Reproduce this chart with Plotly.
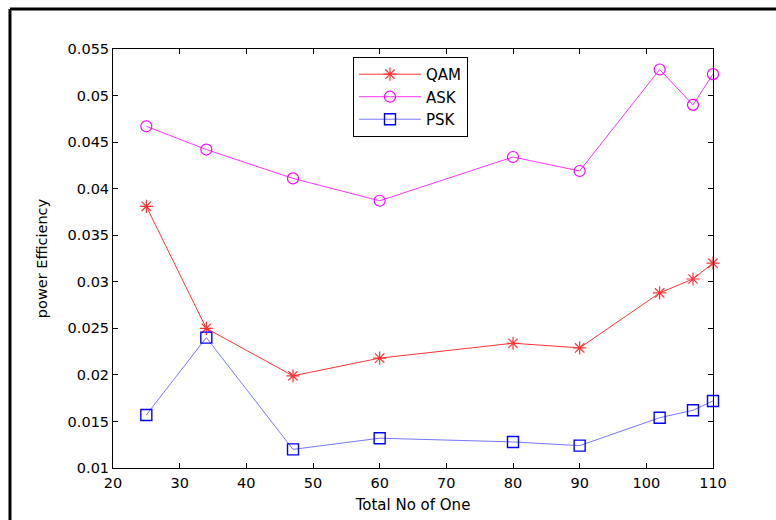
import plotly.graph_objects as go

# Number of ones in the frame (x) and measured power efficiency per modulation
total_ones = [25, 34, 47, 60, 80, 90, 102, 107, 110]
qam_eff = [0.0381, 0.0250, 0.0199, 0.0218, 0.0234, 0.0229, 0.0288, 0.0303, 0.0320]
ask_eff = [0.0467, 0.0442, 0.0411, 0.0387, 0.0434, 0.0419, 0.0528, 0.0490, 0.0523]
psk_eff = [0.0157, 0.0240, 0.0120, 0.0132, 0.0128, 0.0124, 0.0154, 0.0162, 0.0172]

x_ticks = [20, 30, 40, 50, 60, 70, 80, 90, 100, 110]
x_tick_text = ["20", "30", "40", "50", "60", "70", "80", "90", "100", "110"]
y_ticks = [0.01, 0.015, 0.02, 0.025, 0.03, 0.035, 0.04, 0.045, 0.05, 0.055]
y_tick_text = ["0.01", "0.015", "0.02", "0.025", "0.03", "0.035", "0.04", "0.045", "0.05", "0.055"]

FONT = "DejaVu Sans"

fig = go.Figure()
fig.add_trace(go.Scatter(
    x=total_ones, y=qam_eff, name="QAM", mode="lines+markers", cliponaxis=False,
    line=dict(color="#ff3333", width=1),
    marker=dict(symbol="asterisk-open", size=11, line=dict(color="#ff0000", width=1.2)),
))
fig.add_trace(go.Scatter(
    x=total_ones, y=ask_eff, name="ASK", mode="lines+markers", cliponaxis=False,
    line=dict(color="#ff33ff", width=1),
    marker=dict(symbol="circle-open", size=11, color="#ff00ff", line=dict(color="#ff00ff", width=1.2)),
))
fig.add_trace(go.Scatter(
    x=total_ones, y=psk_eff, name="PSK", mode="lines+markers", cliponaxis=False,
    line=dict(color="#7777ff", width=1),
    marker=dict(symbol="square-open", size=11, color="#0000ff", line=dict(color="#0000ff", width=1.4)),
))

axis_common = dict(
    showgrid=False, zeroline=False, showline=True, linecolor="#000000", linewidth=1,
    mirror="ticks", ticks="inside", ticklen=5, tickwidth=1, tickcolor="#000000",
    tickfont=dict(family=FONT, size=14.5, color="#000000"), automargin=False,
)

fig.update_xaxes(
    range=[20, 110], tickmode="array", tickvals=x_ticks, ticktext=x_tick_text,
    ticklabelstandoff=2,
    title=dict(text="Total No of One", font=dict(family=FONT, size=15, color="#000000"), standoff=9),
    **axis_common,
)
fig.update_yaxes(
    range=[0.01, 0.055], tickmode="array", tickvals=y_ticks, ticktext=y_tick_text,
    title=dict(text="power Efficiency", font=dict(family=FONT, size=14.5, color="#000000"), standoff=16),
    **axis_common,
)

# Outer figure frame (left and top edges)
fig.add_shape(type="line", xref="paper", yref="paper",
              x0=-0.1717, x1=1.2, y0=1.0955, y1=1.0955,
              line=dict(color="#000000", width=3))
fig.add_shape(type="line", xref="paper", yref="paper",
              x0=-0.1717, x1=-0.1717, y0=1.0955, y1=-0.3,
              line=dict(color="#000000", width=3))

fig.update_layout(
    width=776, height=520,
    margin=dict(l=113, r=63, t=49, b=52),
    paper_bgcolor="#ffffff", plot_bgcolor="#ffffff",
    font=dict(family=FONT, color="#000000"),
    legend=dict(
        x=0.40, y=0.981, xanchor="left", yanchor="top",
        bgcolor="#ffffff", bordercolor="#000000", borderwidth=1,
        font=dict(family=FONT, size=15, color="#000000"),
        itemwidth=62, tracegroupgap=0,
    ),
    showlegend=True,
)

fig.write_html("out.html")
